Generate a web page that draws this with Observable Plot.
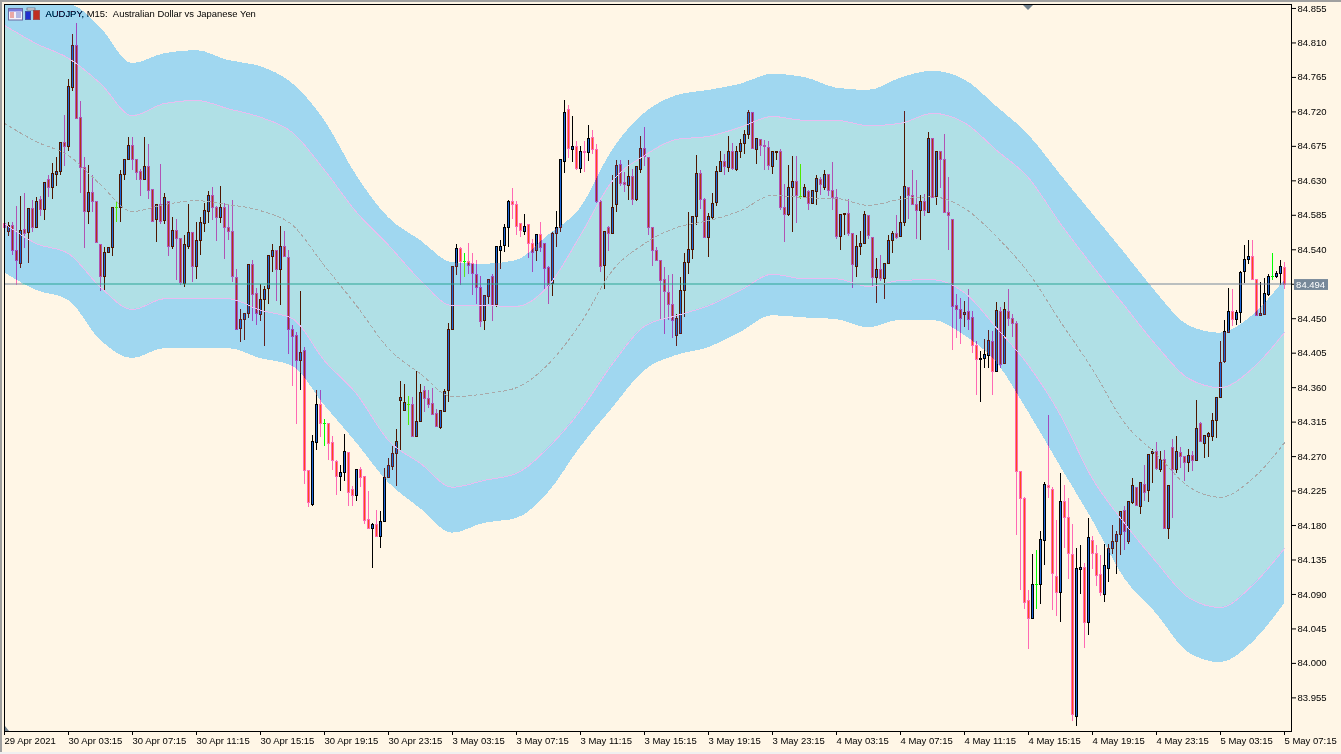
<!DOCTYPE html>
<html>
<head>
<meta charset="utf-8">
<script src="https://cdn.jsdelivr.net/npm/d3@7"></script>
<script src="https://cdn.jsdelivr.net/npm/@observablehq/plot@0.6"></script>
<style>
html,body{margin:0;padding:0;background:#fff6e6;overflow:hidden}
#chart{position:relative;width:1341px;height:754px;isolation:isolate;overflow:hidden}
#chart svg.plot{display:block;font-family:"Liberation Sans",sans-serif;background:#fff6e6}
.edge{position:absolute;background:#a0a0a0}
</style>
</head>
<body>
<div id="chart"></div>
<script>
// Prices as thousandths of a yen above 84.000, one entry per 15-minute bar.
const open = [
573,563,571,539,521,566,562,593,569,605,592,631,620,637,641,680,674,751,806,712,
647,589,614,603,546,504,536,542,595,594,637,657,676,657,641,631,648,618,579,598,
578,602,544,565,554,495,544,562,517,551,573,589,610,595,581,595,569,563,503,436,
448,456,520,482,455,474,489,530,538,513,543,529,435,428,395,408,251,207,288,337,
312,312,288,263,244,248,275,226,218,253,244,187,176,181,165,185,242,257,273,342,
329,337,337,296,315,355,345,339,326,307,328,355,435,517,541,524,524,522,507,490,
447,478,505,468,538,545,568,603,599,573,563,572,548,538,559,547,516,495,560,568,
654,722,670,674,645,668,666,686,670,603,519,569,561,598,651,627,623,635,605,644,
672,660,569,539,525,501,483,468,428,430,486,523,540,583,639,605,556,581,601,641,
654,647,667,644,667,678,690,718,670,683,676,673,648,666,667,594,585,620,629,609,
609,616,600,615,631,620,637,617,607,557,585,587,561,517,544,547,584,556,503,514,
502,522,552,560,557,575,620,610,599,591,603,588,684,609,667,657,588,579,466,462,
455,459,451,415,396,398,401,420,380,459,391,459,449,443,250,214,81,58,103,102,
160,232,227,113,92,211,190,142,-70,122,125,53,160,143,116,89,123,150,158,168,
199,159,209,229,204,233,225,274,276,253,266,175,281,253,275,270,261,271,264,313,
287,296,296,316,347,393,431,459,448,458,511,526,531,501,454,455,481,504,504,508,
516];
const close = [
569,571,538,525,565,561,593,568,603,592,627,621,639,641,680,674,752,806,711,647,
589,614,602,549,504,536,542,594,595,637,657,676,657,640,631,648,617,576,598,576,
607,543,565,554,497,546,562,517,551,575,590,610,594,581,595,568,563,504,435,448,
456,520,481,456,474,488,532,538,513,544,530,435,426,395,405,251,209,289,337,313,
312,286,264,244,248,276,223,218,252,242,186,176,181,165,185,242,258,273,289,346,
340,337,296,315,353,345,337,324,308,329,354,435,517,541,524,524,519,508,490,446,
479,501,466,543,544,569,603,598,570,564,570,548,536,559,542,515,493,561,569,657,
718,671,674,645,667,666,684,670,602,517,563,561,595,650,626,624,635,605,648,672,
661,569,539,525,499,485,468,447,449,486,523,540,583,639,605,556,583,600,642,654,
648,668,645,667,678,690,719,671,684,675,674,649,667,667,594,585,620,629,610,609,
620,600,617,633,624,638,617,607,557,586,587,561,520,544,548,586,558,503,513,502,
522,552,560,556,575,622,610,599,591,603,591,684,608,667,657,588,584,465,462,450,
458,448,414,396,398,402,421,380,460,389,462,449,443,250,214,79,58,103,103,161,
233,229,117,92,211,190,143,-67,123,125,53,164,143,114,92,127,150,159,168,198,
171,211,231,206,236,223,272,276,254,266,175,232,253,276,270,262,271,264,306,289,
297,300,316,347,392,432,459,448,458,510,527,531,500,454,456,482,504,504,508,518,
494];
const high = [
610,576,576,597,610,613,593,604,608,610,628,637,653,660,680,715,762,821,836,733,
660,650,637,603,547,543,543,595,603,643,657,687,687,657,645,687,678,618,598,651,
613,602,582,580,554,558,599,562,576,582,600,616,621,596,623,601,599,604,514,462,
456,520,526,489,495,492,532,547,538,570,564,539,441,432,485,412,251,297,356,356,
319,313,296,265,258,299,275,231,252,256,244,225,182,199,198,255,267,283,305,368,
364,349,347,381,364,361,356,359,331,329,357,444,517,547,543,535,548,535,526,505,
479,501,508,543,552,573,604,620,603,574,586,573,554,560,576,547,518,562,590,657,
735,728,714,681,675,681,702,696,677,607,563,570,637,657,657,641,657,645,649,688,
700,661,569,543,526,517,506,508,456,504,535,589,583,663,643,607,587,613,649,668,
665,688,679,675,684,696,722,718,684,684,683,681,667,667,671,625,650,662,662,651,
625,618,618,637,634,644,638,654,619,586,587,606,561,559,564,590,585,556,528,533,
522,558,564,585,609,721,621,643,631,611,612,693,685,668,668,691,634,579,482,477,
472,488,459,420,407,423,434,433,471,464,471,488,456,446,250,216,95,142,147,172,
236,324,229,187,248,232,215,181,150,154,130,189,166,154,141,155,155,180,172,198,
205,211,242,230,236,258,272,279,289,277,278,232,292,296,282,270,279,277,343,315,
297,302,326,347,420,448,489,488,461,512,546,552,552,501,497,502,508,535,511,526,
523];
const low = [
560,557,532,494,516,542,522,562,568,584,578,608,605,623,637,649,668,747,711,613,
542,573,589,549,485,485,536,531,576,576,631,657,643,630,609,631,605,576,549,573,
573,531,541,500,494,491,541,497,501,532,563,574,578,551,574,527,552,497,435,419,
421,450,447,441,447,414,468,510,473,467,530,403,362,312,356,234,204,205,278,295,
283,265,252,219,224,238,205,205,211,230,181,175,124,165,150,185,242,252,231,278,
329,310,296,295,315,328,333,323,308,306,328,341,435,506,493,504,508,480,469,438,
435,469,446,464,514,536,543,579,559,556,559,529,510,525,536,487,469,479,543,563,
639,659,654,644,640,641,655,665,601,510,488,538,561,589,623,615,604,598,603,639,
649,559,518,525,448,430,448,424,414,429,451,508,527,572,593,555,530,579,596,641,
637,641,644,642,659,665,684,671,651,662,644,644,638,657,591,550,583,562,574,606,
607,591,600,598,611,618,609,591,554,539,559,557,490,504,533,547,554,491,470,499,
475,522,535,554,557,570,580,598,554,552,584,588,608,598,620,588,539,408,424,416,
439,435,405,350,340,385,385,350,380,385,391,440,426,167,95,70,18,57,70,77,
128,215,69,61,54,150,110,-76,-82,90,20,36,123,100,87,79,105,142,116,141,
147,155,208,205,194,211,210,235,252,249,175,162,189,248,254,238,249,251,263,289,
268,269,290,294,347,392,431,440,441,444,496,521,500,453,453,454,479,500,502,493,
488];

// Envelope readings, every eighth bar.
const bandBars = d3.range(0, 321, 8);
const outerUpper = [911,889,872,830,783,796,800,787,779,757,709,637,582,552,523,521,526,559,594,670,718,741,748,756,769,765,751,748,764,773,762,727,690,638,587,536,484,441,431,454,500];
const innerUpper = [833,809,790,757,715,731,735,724,713,693,644,589,546,500,467,467,466,493,559,630,663,684,688,700,714,709,709,702,705,718,706,670,634,574,519,467,415,372,360,385,432];
const middle     = [705,681,663,625,590,599,604,599,591,572,519,467,411,378,348,352,360,391,444,513,548,569,578,591,611,608,607,598,606,609,594,557,510,446,384,314,273,231,217,241,288];
const innerLower = [574,548,535,491,462,476,476,476,461,450,395,352,291,261,230,239,248,282,330,391,440,454,467,487,508,502,502,492,500,501,484,438,389,324,241,183,132,86,73,102,150];
const outerLower = [510,487,474,422,398,411,411,411,398,388,337,288,236,202,170,183,189,223,282,333,382,402,412,432,454,451,449,438,448,448,428,393,328,257,187,111,65,14,1,27,78];

const priceTicks = d3.range(21).map(k => +(84.855 - 0.045 * k).toFixed(3));
const timeLabels = ["29 Apr 2021","30 Apr 03:15","30 Apr 07:15","30 Apr 11:15","30 Apr 15:15","30 Apr 19:15","30 Apr 23:15","3 May 03:15","3 May 07:15","3 May 11:15","3 May 15:15","3 May 19:15","3 May 23:15","4 May 03:15","4 May 07:15","4 May 11:15","4 May 15:15","4 May 19:15","4 May 23:15","5 May 03:15","5 May 07:15"];
const timeTicks = timeLabels.map((_, k) => k * 16);
const lastPrice = 84.494;
const title = "AUDJPY, M15:\u00a0\u00a0Australian Dollar vs Japanese Yen";

const P = v => 84 + v / 1000;
const bars = open.map((o, i) => ({
  i, open: P(o), close: P(close[i]), high: P(high[i]), low: P(low[i]),
  top: P(Math.max(o, close[i])), bottom: P(Math.min(o, close[i])),
  kind: o === close[i] ? "doji" : close[i] > o ? "up" : "down"
}));
const band = bandBars.map((b, k) => ({
  b, ou: P(outerUpper[k]), iu: P(innerUpper[k]), m: P(middle[k]), il: P(innerLower[k]), ol: P(outerLower[k])
}));

const wickColor = {up: "#000000", down: "#ff69b4", doji: "#00ff00"};
const curve = "monotone-x";
const crisp = {shapeRendering: "crispEdges"};
// The band colours are laid over the candles the way the terminal XORs its fills.
const maskTeal = "rgb(79,22,0)", maskBlue = "rgb(95,31,10)", blueLift = "rgb(0,0,20)";

const chart = Plot.plot({
  width: 1341, height: 754,
  marginLeft: 4, marginTop: 4, marginRight: 50, marginBottom: 23,
  style: {background: "#fff6e6", fontFamily: "Liberation Sans, sans-serif", fontSize: "9.5px", color: "#000"},
  x: {domain: [0, 321.75], range: [4, 1291]},
  y: {domain: [83.9111, 84.8602], range: [731, 4], clamp: true},
  color: {type: "identity"},
  marks: [
    Plot.frame({fill: "#fff6e6", stroke: "none"}),
    Plot.text([title], {
      frameAnchor: "top-left", dx: 41, dy: 6, text: d => d, textAnchor: "start", lineAnchor: "top",
      fill: "#000", fontSize: 9.43, fontFamily: "Liberation Sans, sans-serif"
    }),
    Plot.ruleX(bars, {x: "i", y1: "low", y2: "high", stroke: d => wickColor[d.kind], strokeWidth: 1, ...crisp}),
    Plot.ruleX(bars, {
      x: "i", y1: "top", y2: "bottom", stroke: d => wickColor[d.kind], strokeWidth: 3,
      insetTop: -0.5, insetBottom: -0.5, ...crisp
    }),
    Plot.ruleX(bars.filter(d => d.kind === "down"), {
      x: "i", y1: "top", y2: "bottom", stroke: "#ff4a14", strokeWidth: 1,
      insetTop: 0.5, insetBottom: 0.5, ...crisp
    }),
    // bands
    Plot.areaY(band, {x: "b", y1: "il", y2: "iu", curve, fill: maskTeal, mixBlendMode: "difference", ...crisp}),
    Plot.areaY(band, {x: "b", y1: "iu", y2: "ou", curve, fill: maskBlue, mixBlendMode: "difference", ...crisp}),
    Plot.areaY(band, {x: "b", y1: "ol", y2: "il", curve, fill: maskBlue, mixBlendMode: "difference", ...crisp}),
    Plot.areaY(band, {x: "b", y1: "iu", y2: "ou", curve, fill: blueLift, mixBlendMode: "plus-lighter", ...crisp}),
    Plot.areaY(band, {x: "b", y1: "ol", y2: "il", curve, fill: blueLift, mixBlendMode: "plus-lighter", ...crisp}),
    // up-candle centres keep their blue over the bands
    Plot.ruleX(bars.filter(d => d.kind === "up"), {
      x: "i", y1: "top", y2: "bottom", stroke: "#1a66d8", strokeWidth: 1,
      insetTop: 0.5, insetBottom: 0.5, ...crisp
    }),
    Plot.line(band, {x: "b", y: "iu", curve, stroke: "#e8bdf0", strokeWidth: 1, ...crisp}),
    Plot.line(band, {x: "b", y: "il", curve, stroke: "#e8bdf0", strokeWidth: 1, ...crisp}),
    Plot.line(band, {x: "b", y: "m", curve, stroke: "#a8a8a8", strokeWidth: 1, strokeDasharray: "3,3", ...crisp}),
    // last price line: gray on the paper, teal across the bands
    Plot.ruleY([lastPrice], {x1: 0, x2: 4.5, stroke: "#778899", strokeWidth: 1, dy: -1}),
    Plot.ruleY([lastPrice], {x1: 4.5, x2: 286, stroke: "#2aa595", strokeWidth: 1, dy: -1}),
    Plot.ruleY([lastPrice], {x1: 286, x2: 321.75, stroke: "#778899", strokeWidth: 1, dy: -1}),
    Plot.frame({stroke: "#000", strokeWidth: 1}),
    Plot.axisY({
      anchor: "right", ticks: priceTicks, tickSize: 4, tickPadding: 2,
      tickFormat: d => d.toFixed(3), label: null, stroke: "#000", fill: "#000", fontSize: 9.5
    }),
    Plot.axisX({
      anchor: "bottom", ticks: timeTicks, tickSize: 4, tickPadding: 2,
      tickFormat: d => timeLabels[d / 16], label: null, textAnchor: "start", stroke: "#000", fill: "#000", fontSize: 9.5
    }),
    Plot.rect([lastPrice], {x1: 322.5, x2: 331.0, y1: d => d - 0.0071, y2: d => d + 0.0071, fill: "#778899"}),
    Plot.text([lastPrice], {x: 322.9, y: d => d, text: d => d.toFixed(3), textAnchor: "start", fill: "#fff", fontSize: 9.5})
  ]
});
const root = document.getElementById("chart");
root.appendChild(chart);

// Window chrome of the terminal: edges, toolbar icons and scale markers.
root.insertAdjacentHTML("beforeend", `
<div class="edge" style="left:0;top:0;width:1341px;height:2px"></div>
<div class="edge" style="left:0;top:0;width:2px;height:754px"></div>
<div class="edge" style="left:0;top:752px;width:1341px;height:2px;background:#f0f0f0"></div>
<svg style="position:absolute;left:0;top:0" width="1341" height="754">
  <rect x="8.5" y="8.5" width="14" height="11.5" fill="#f4f0fa" stroke="#6a6aa0"/>
  <rect x="9" y="9" width="13" height="2.5" fill="#7a7adc"/>
  <path d="M10 13h4M10 15h4M10 17h4" stroke="#e06050" stroke-width="1"/>
  <path d="M16 13h5M16 15h5M16 17h5" stroke="#7080d0" stroke-width="1"/>
  <rect x="25.5" y="11.5" width="5" height="8" fill="#2030d0" stroke="#4050a0"/>
  <rect x="33.5" y="10.5" width="6" height="9" fill="#c03020" stroke="#a05050"/>
  <rect x="27" y="8" width="8" height="2" fill="#e8e8f0" stroke="#505060" stroke-width=".6"/>
  <path d="M1023 5h10l-5 5z" fill="#70808c"/>
  <path d="M5 726l4 5h-4z" fill="#70808c"/>
</svg>`);
</script>
</body>
</html>
